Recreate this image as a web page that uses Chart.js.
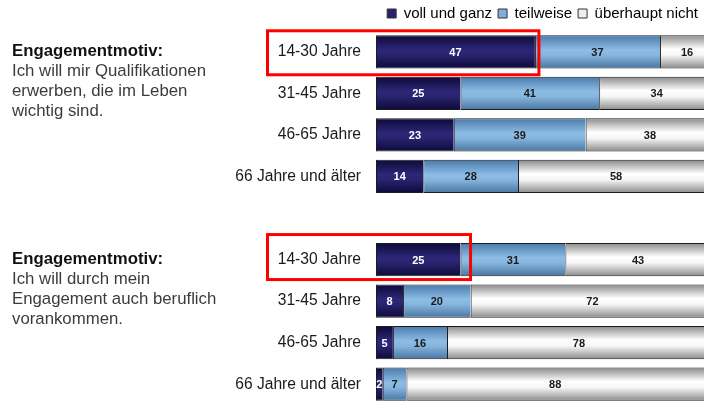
<!DOCTYPE html>
<html>
<head>
<meta charset="utf-8">
<script src="https://cdn.jsdelivr.net/npm/chart.js@4"></script>
<style>
  html, body { margin: 0; padding: 0; background: #fff; overflow: hidden; }
  #wrap { width: 704px; height: 401px; overflow: hidden; }
</style>
</head>
<body>
<div id="wrap"><canvas id="chart" width="704" height="405"></canvas></div>
<script>
const ageGroups = ['14-30 Jahre', '31-45 Jahre', '46-65 Jahre', '66 Jahre und älter', '',
                   '14-30 Jahre', '31-45 Jahre', '46-65 Jahre', '66 Jahre und älter'];
const seriesNames = ['voll und ganz', 'teilweise', 'überhaupt nicht'];
const vollUndGanz = [47, 25, 23, 14, null, 25, 8, 5, 2];
const teilweise = [37, 41, 39, 28, null, 31, 20, 16, 7];
const ueberhauptNicht = [16, 34, 38, 58, null, 43, 72, 78, 88];

const motiveRows = [0, 5];
const motiveTitles = ['Engagementmotiv:', 'Engagementmotiv:'];
const motiveTexts = [
    ['Ich will mir Qualifikationen', 'erwerben, die im Leben', 'wichtig sind.'],
    ['Ich will durch mein', 'Engagement auch beruflich', 'vorankommen.']
];

const FONT = '"Liberation Sans", Arial, sans-serif';

// red highlight frames around the youngest group
const highlights = [
    { row: 0, pad: 4, above: 21, below: 23 },
    { row: 5, pad: 10, above: 25, below: 20 }
];

const gradients = [
    [[0, '#0e0938'], [0.45, '#2c2878'], [0.6, '#29246f'], [1, '#0e0938']],
    [[0, '#4a7aa9'], [0.45, '#8dbde5'], [0.6, '#86b5de'], [1, '#4a76a2']],
    [[0, '#8a8a8a'], [0.42, '#ffffff'], [0.6, '#f6f6f6'], [1, '#8a8a8a']]
];
const legendColors = ['#28226c', '#7eaedb', '#eeeeee'];

const barFill = (idx) => (context) => {
    const chart = context.chart;
    const { ctx, chartArea, scales } = chart;
    if (!chartArea || context.dataIndex === undefined) return legendColors[idx];
    const yc = scales.y.getPixelForValue(context.dataIndex);
    const half = (chartArea.bottom - chartArea.top) / ageGroups.length * 0.8 / 2;
    const g = ctx.createLinearGradient(0, yc - half, 0, yc + half);
    gradients[idx].forEach(([stop, color]) => g.addColorStop(stop, color));
    return g;
};

const valueLabels = {
    id: 'valueLabels',
    afterDatasetsDraw(chart) {
        const ctx = chart.ctx;
        ctx.save();
        ctx.font = `bold 11px ${FONT}`;
        ctx.textAlign = 'center';
        ctx.textBaseline = 'middle';
        chart.data.datasets.forEach((ds, i) => {
            chart.getDatasetMeta(i).data.forEach((bar, j) => {
                const v = ds.data[j];
                if (v == null) return;
                const p = bar.getCenterPoint();
                ctx.fillStyle = i === 0 ? '#ffffff' : '#1a1a1a';
                ctx.fillText(String(v), p.x, p.y + 1);
            });
        });
        ctx.restore();
    }
};

const motiveNotes = {
    id: 'motiveNotes',
    afterDraw(chart) {
        const { ctx, scales } = chart;
        ctx.save();
        ctx.textAlign = 'left';
        ctx.textBaseline = 'middle';
        motiveRows.forEach((row, k) => {
            const y0 = scales.y.getPixelForValue(row);
            ctx.font = `bold 16.8px ${FONT}`;
            ctx.fillStyle = '#111111';
            ctx.fillText(motiveTitles[k], 12, y0);
            ctx.font = `16.8px ${FONT}`;
            ctx.fillStyle = '#3c3c3c';
            motiveTexts[k].forEach((line, n) => ctx.fillText(line, 12, y0 + 20 * (n + 1)));
        });

        ctx.strokeStyle = '#ff0000';
        ctx.lineWidth = 3;
        highlights.forEach(h => {
            const yc = scales.y.getPixelForValue(h.row);
            const right = scales.x.getPixelForValue(vollUndGanz[h.row]) + h.pad;
            ctx.strokeRect(267.5, yc - h.above, right - 267.5, h.above + h.below);
        });
        ctx.restore();
    }
};

const seriesData = [vollUndGanz, teilweise, ueberhauptNicht];

new Chart(document.getElementById('chart'), {
    type: 'bar',
    data: {
        labels: ageGroups,
        datasets: seriesData.map((values, i) => ({
            label: seriesNames[i],
            data: values,
            backgroundColor: barFill(i),
            borderColor: '#1c1c1c',
            borderWidth: { top: 1, bottom: 1, left: 1, right: 0 },
            borderSkipped: false,
            barPercentage: 0.8,
            categoryPercentage: 1.0
        }))
    },
    options: {
        indexAxis: 'y',
        responsive: false,
        animation: false,
        layout: { padding: 0, autoPadding: false },
        scales: {
            x: { stacked: true, min: 0, max: 97, display: false },
            y: {
                stacked: true,
                grid: { display: false, drawTicks: false },
                border: { display: false },
                ticks: {
                    color: '#1a1a1a',
                    padding: 15,
                    autoSkip: false,
                    font: { size: 15.6, family: FONT }
                },
                afterFit(scale) {
                    scale.width = 376;
                    // tick padding should not shrink the plot vertically
                    scale.paddingTop = 0;
                    scale.paddingBottom = 0;
                }
            }
        },
        plugins: {
            tooltip: { enabled: false },
            legend: {
                position: 'top',
                align: 'end',
                labels: {
                    boxWidth: 9,
                    boxHeight: 9,
                    padding: 6,
                    color: '#222222',
                    font: { size: 15, family: FONT },
                    generateLabels: () => seriesNames.map((name, i) => ({
                        text: name,
                        fillStyle: legendColors[i],
                        strokeStyle: '#333333',
                        lineWidth: 1,
                        hidden: false,
                        datasetIndex: i
                    }))
                }
            }
        }
    },
    plugins: [valueLabels, motiveNotes]
});
</script>
</body>
</html>
